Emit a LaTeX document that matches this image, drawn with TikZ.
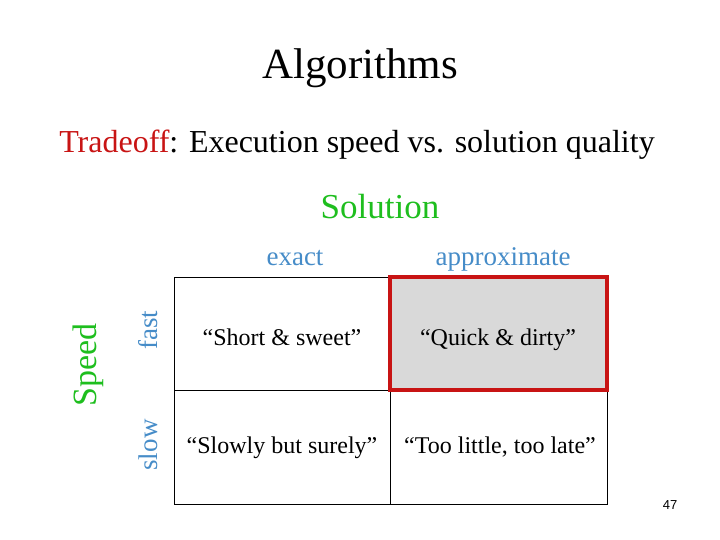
\documentclass[tikz,border=0pt]{standalone}
\usepackage{fontspec}
\setmainfont{Liberation Serif}
\setsansfont{Liberation Sans}
\definecolor{tred}{RGB}{200,20,20}
\definecolor{tgreen}{RGB}{30,190,30}
\definecolor{tblue}{RGB}{70,140,200}
\definecolor{hl}{RGB}{217,217,217}
\begin{document}
\begin{tikzpicture}[x=1pt,y=-1pt,
  cell/.style={font=\fontsize{24}{28}\selectfont,anchor=base},
  hdr/.style={font=\fontsize{27}{31}\selectfont,text=tblue}]
\useasboundingbox (0,0) rectangle (720,540);
\node (title) at (360,68) {\fontsize{43}{48}\selectfont Algorithms};
\node (trade) at (357,145) {\fontsize{32}{36}\selectfont\textcolor{tred}{Tradeoff}: Execution speed vs. solution quality};
\node (sol) at (380,207) {\fontsize{35}{40}\selectfont\textcolor{tgreen}{Solution}};
\node[hdr,anchor=base] (exact) at (295,265) {exact};
\node[hdr,anchor=base] (approx) at (503,265) {approximate};
\node[hdr,rotate=90] (fast) at (148,330) {fast};
\node[hdr,rotate=90] (slow) at (148,445) {slow};
\node[rotate=90,font=\fontsize{34}{40}\selectfont,text=tgreen] (speed) at (88,365) {Speed};
\fill[hl] (390,277) rectangle (607,390);
\draw[line width=0.8] (174,277) rectangle (607,504);
\draw[line width=0.8] (390,277) -- (390,504) (174,390) -- (607,390);
\draw[tred,line width=4.5] (390,277) rectangle (607,390);
\node[cell] (c11) at (282,345) {“Short \& sweet”};
\node[cell] (c12) at (498,345) {“Quick \& dirty”};
\node[cell] (c21) at (282,453) {“Slowly but surely”};
\node[cell] (c22) at (500,453) {“Too little, too late”};
\node[font=\sffamily\fontsize{13}{15}\selectfont] (pg) at (670,505) {47};
\end{tikzpicture}
\end{document}
